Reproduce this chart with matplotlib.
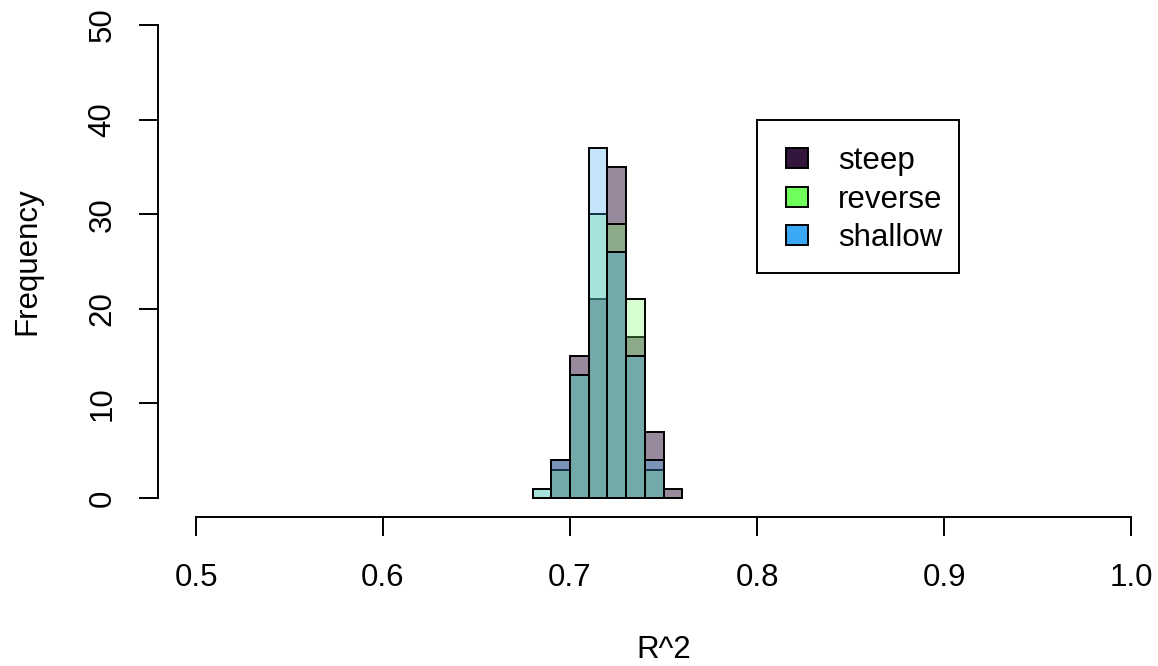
import matplotlib
matplotlib.use("Agg")
import matplotlib.pyplot as plt
from matplotlib.patches import Rectangle

# ---- data ----
bin_left = [0.68, 0.69, 0.70, 0.71, 0.72, 0.73, 0.74, 0.75]
bin_width = 0.01
steep = [0, 4, 15, 21, 35, 17, 7, 1]
reverse = [1, 3, 13, 30, 29, 21, 3, 0]
shallow = [1, 4, 13, 37, 26, 15, 4, 0]
series_names = ["steep", "reverse", "shallow"]
x_ticks = [0.5, 0.6, 0.7, 0.8, 0.9, 1.0]
x_tick_labels = ["0.5", "0.6", "0.7", "0.8", "0.9", "1.0"]
y_ticks = [0, 10, 20, 30, 40, 50]

solid_cols = ["#33163B", "#6EFF5A", "#3AA8F5"]
fill_cols = [(51/255, 22/255, 59/255, 0.5),
             (110/255, 255/255, 90/255, 0.28),
             (58/255, 168/255, 245/255, 0.3)]

plt.rcParams['font.family'] = ['Liberation Sans', 'DejaVu Sans']
FS = 22.5

W, H = 1158, 666
fig = plt.figure(figsize=(W/100, H/100), dpi=100)
left, right, top, bottom = 158, 1158, 6, 517
ax = fig.add_axes([left/W, 1 - bottom/H, (right-left)/W, (bottom-top)/H])
px_per_unit = (1131 - 196) / 0.5
ax.set_xlim(0.5 - (196-left)/px_per_unit, 1.0 + (right-1131)/px_per_unit)
ax.set_ylim(-2, 52)

for vals, fc in zip([steep, reverse, shallow], fill_cols):
    ax.bar(bin_left, vals, width=bin_width, align='edge', facecolor=fc,
           edgecolor='black', linewidth=1.4)

for s in ['top', 'right']:
    ax.spines[s].set_visible(False)
ax.spines['left'].set_bounds(0, 50)
ax.spines['bottom'].set_bounds(0.5, 1.0)
ax.spines['left'].set_linewidth(1.4)
ax.spines['bottom'].set_linewidth(1.4)

ax.set_xticks(x_ticks)
ax.set_xticklabels(x_tick_labels)
ax.set_yticks(y_ticks)
ax.set_yticklabels([str(v) for v in y_ticks], rotation=90, va='center')
ax.tick_params(axis='both', direction='out', length=13.7, width=1.4,
               labelsize=FS)
ax.tick_params(axis='x', pad=19.5)
ax.tick_params(axis='y', pad=15.5)

ax.set_xlabel("R^2", fontsize=FS, va='center')
ax.xaxis.set_label_coords((663.5-left)/(right-left), (bottom-650)/(bottom-top))
ax.set_ylabel("Frequency", fontsize=FS, va='center')
ax.yaxis.set_label_coords((27-left)/(right-left), 0.5)

# legend box (drawn in figure pixel coordinates)
def fx(x): return x / W
def fy(y): return 1 - y / H

fig.add_artist(Rectangle((fx(757), fy(273)), (959-757)/W, (273-120)/H,
                         transform=fig.transFigure, facecolor='white',
                         edgecolor='black', linewidth=1.4))
row_y = [158, 197, 235]
for name, col, yc in zip(series_names, solid_cols, row_y):
    fig.add_artist(Rectangle((fx(786), fy(yc+10)), 22/W, 20/H,
                             transform=fig.transFigure, facecolor=col,
                             edgecolor='black', linewidth=1.4))
    fig.text(fx(838), fy(yc), name, fontsize=FS, va='center_baseline', ha='left')

fig.savefig("out.png", dpi=100)
